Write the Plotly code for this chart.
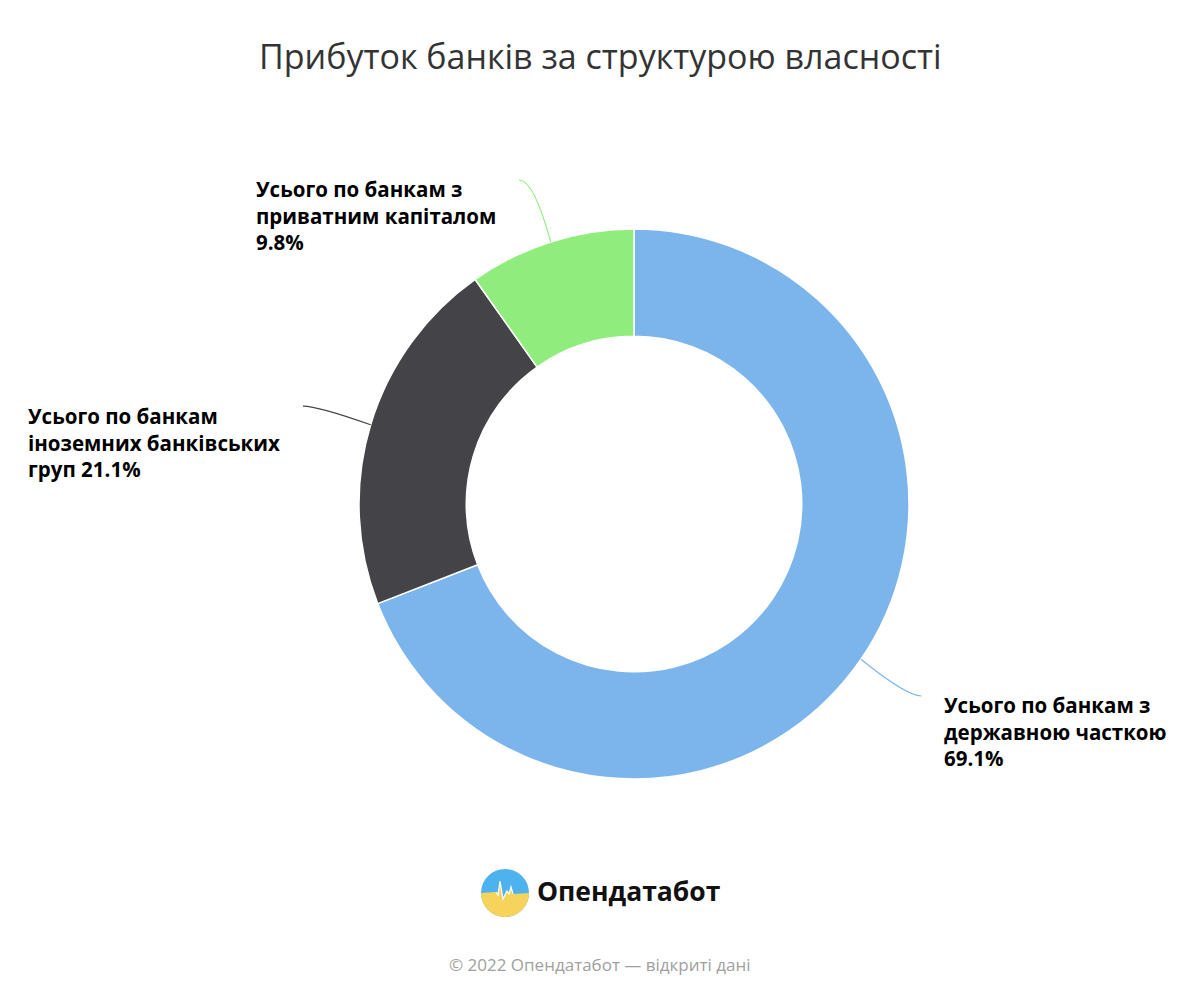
import numpy as np
import plotly.graph_objects as go

# data
labels = [
    "Усього по банкам з<br>державною часткою<br>69.1%",
    "Усього по банкам<br>іноземних банківських<br>груп 21.1%",
    "Усього по банкам з<br>приватним капіталом<br>9.8%",
]
names = ["Усього по банкам з державною часткою",
         "Усього по банкам іноземних банківських груп",
         "Усього по банкам з приватним капіталом"]
values = [69.1, 21.1, 9.8]
colors = ["#7cb5ec", "#434348", "#90ed7d"]

W, H = 1200, 1000
OFF = 8  # page margin of the browser
cx, cy, R = 634, 504, 275
hole = 0.61


def px(x):
    return (x - OFF) / W


def py(y):
    return 1 - (y - OFF) / H


fig = go.Figure()
fig.add_trace(go.Pie(
    labels=names, values=values, sort=False, direction="clockwise", rotation=0,
    hole=hole, textinfo="none", hoverinfo="label+percent",
    marker=dict(colors=colors, line=dict(color="white", width=1.5)),
    domain=dict(x=[px(cx - R), px(cx + R)], y=[py(cy + R), py(cy - R)]),
    showlegend=False,
))

shapes = []
annotations = []

# connectors and labels, placed from slice mid-angles
total = sum(values)
acc = 0
for lab, v, col in zip(labels, values, colors):
    mid = (acc + v / 2) / total * 2 * np.pi
    acc += v
    s, c = np.sin(mid), np.cos(mid)
    x0, y0 = cx + R * s, cy - R * c
    xc, yc = cx + 330 * s, cy - 340 * c
    side = 1 if s >= 0 else -1
    x1, y1 = xc + 15 * side, yc
    shapes.append(dict(
        type="path", xref="paper", yref="paper",
        path=f"M {px(x0)} {py(y0)} Q {px(xc)} {py(yc)} {px(x1)} {py(y1)}",
        line=dict(color=col, width=1.2),
    ))
    annotations.append(dict(
        x=px(x1 + 21 * side), y=py(y1 + 36), xref="paper", yref="paper",
        text=f"<b>{lab}</b>", showarrow=False, align="left",
        xanchor="left" if side > 0 else "right", yanchor="middle",
        font=dict(family="Open Sans", size=20.5, color="#000000"),
    ))

# title
annotations.append(dict(
    x=px(600), y=py(56), xref="paper", yref="paper", showarrow=False,
    text="Прибуток банків за структурою власності",
    xanchor="center", yanchor="middle",
    font=dict(family="Open Sans", size=34, color="#333333"),
))

# logo
lx, ly, lr = 505, 893, 24
shapes.append(dict(type="circle", xref="paper", yref="paper",
                   x0=px(lx - lr), x1=px(lx + lr), y0=py(ly + lr), y1=py(ly - lr),
                   fillcolor="#4db2ee", line=dict(width=0)))
t = np.linspace(0, np.pi, 40)
arc = [(lx + lr * np.cos(a), ly + lr * np.sin(a)) for a in t]
pulse = [(lx - lr, ly), (lx - 9, ly - 1), (lx - 7, ly + 2), (lx - 5, ly - 12),
         (lx - 2, ly + 6), (lx + 2, ly - 2), (lx + 4, ly + 1), (lx + 6, ly - 6),
         (lx + 8, ly + 1), (lx + lr, ly)]
pts = arc + pulse
path = "M " + " L ".join(f"{px(a)} {py(b)}" for a, b in pts) + " Z"
shapes.append(dict(type="path", xref="paper", yref="paper", path=path,
                   fillcolor="#f6d35b", line=dict(width=0)))
pl = "M " + " L ".join(f"{px(a)} {py(b)}" for a, b in pulse[1:-1])
shapes.append(dict(type="path", xref="paper", yref="paper", path=pl,
                   line=dict(color="white", width=1.2)))
annotations.append(dict(
    x=px(535), y=py(891), xref="paper", yref="paper", showarrow=False,
    text="<b>Опендатабот</b>", xanchor="left", yanchor="middle",
    font=dict(family="Open Sans", size=26.5, color="#111111"),
))

# footer
annotations.append(dict(
    x=px(600), y=py(964), xref="paper", yref="paper", showarrow=False,
    text="© 2022 Опендатабот — відкриті дані",
    xanchor="center", yanchor="middle",
    font=dict(family="Open Sans", size=17, color="#a0a0a0"),
))

fig.update_layout(
    width=W, height=H, margin=dict(l=0, r=0, t=0, b=0),
    paper_bgcolor="white", plot_bgcolor="white",
    shapes=shapes, annotations=annotations,
)

fig.write_html("out.html")
